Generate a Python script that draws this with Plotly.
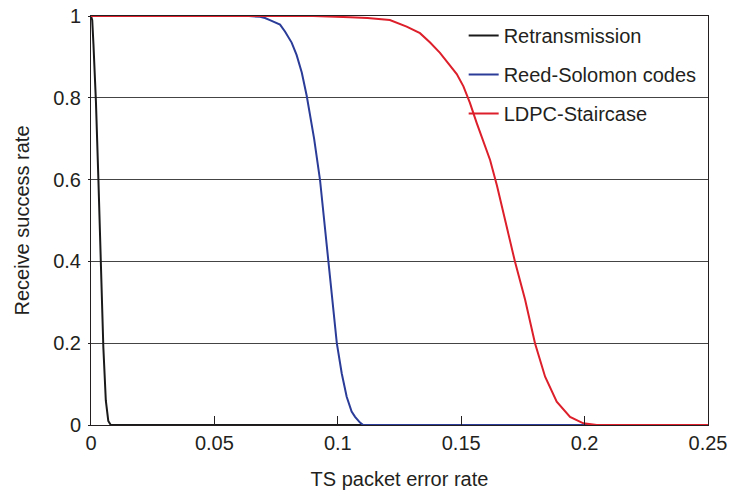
import plotly.graph_objects as go

# Data
retx_x = [0, 0.0005, 0.001, 0.002, 0.003, 0.004, 0.005, 0.006, 0.007, 0.008, 0.009, 0.25]
retx_y = [1, 0.99, 0.93, 0.79, 0.60, 0.40, 0.19, 0.06, 0.01, 0.0, 0.0, 0.0]

rs_x = [0, 0.064, 0.0685, 0.0705, 0.0725, 0.0766, 0.0786, 0.0813, 0.0833, 0.0854, 0.0874,
        0.0904, 0.0928, 0.0962, 0.0996, 0.1016, 0.1036, 0.1056, 0.107, 0.109,
        0.1103, 0.25]
rs_y = [1, 1, 0.998, 0.995, 0.99, 0.979, 0.962, 0.935, 0.905, 0.862, 0.805,
        0.70, 0.599, 0.40, 0.20, 0.126, 0.069, 0.033, 0.02, 0.006,
        0.0, 0.0]

ldpc_x = [0, 0.09, 0.105, 0.112, 0.1211, 0.1279, 0.1333, 0.1374, 0.1414, 0.1455,
          0.1482, 0.1509, 0.1535, 0.1563, 0.159, 0.1617, 0.1645, 0.1671, 0.1718,
          0.1759, 0.1799, 0.184, 0.1887, 0.1941, 0.1995, 0.2049, 0.25]
ldpc_y = [1, 1, 0.997, 0.995, 0.99, 0.974, 0.958, 0.935, 0.91, 0.88,
          0.858, 0.828, 0.788, 0.738, 0.695, 0.648, 0.585, 0.518, 0.399,
          0.306, 0.20, 0.118, 0.057, 0.02, 0.004, 0.0, 0.0]

series_names = ["Retransmission", "Reed-Solomon codes", "LDPC-Staircase"]
series_colors = ["#1a1a1a", "#2a3c98", "#dc1f2a"]

x_ticks = [0, 0.05, 0.1, 0.15, 0.2, 0.25]
x_tick_labels = ["0", "0.05", "0.1", "0.15", "0.2", "0.25"]
y_ticks = [0, 0.2, 0.4, 0.6, 0.8, 1]
y_tick_labels = ["0", "0.2", "0.4", "0.6", "0.8", "1"]

FONT = "Liberation Sans, Arial, Helvetica, sans-serif"
FS = 20

fig = go.Figure()
for name, color, xs, ys in zip(series_names, series_colors,
                               [retx_x, rs_x, ldpc_x], [retx_y, rs_y, ldpc_y]):
    fig.add_trace(go.Scatter(x=xs, y=ys, mode="lines", name=name,
                             legendgroup=name,
                             line=dict(color=color, width=2)))

fig.update_layout(
    width=732, height=494,
    margin=dict(l=91, r=24, t=16, b=69),
    paper_bgcolor="white", plot_bgcolor="white",
    font=dict(family=FONT, size=FS, color="#231f20"),
    showlegend=True,
    legend=dict(x=0.604, y=1.0, xanchor="left", yanchor="top",
                bgcolor="rgba(0,0,0,0)", borderwidth=0,
                font=dict(size=FS), tracegroupgap=10),
    xaxis=dict(range=[0, 0.25], tickvals=x_ticks, ticktext=x_tick_labels,
               ticks="inside", ticklen=9, tickcolor="#231f20",
               showline=True, linecolor="#231f20", linewidth=1, mirror=True,
               showgrid=False, zeroline=False, automargin=False,
               title=dict(text="TS packet error rate", standoff=18,
                          font=dict(size=FS)),
               tickfont=dict(size=FS)),
    yaxis=dict(range=[0, 1], tickvals=y_ticks, ticktext=y_tick_labels,
               ticks="outside", ticklen=2, tickcolor="#231f20",
               ticklabelstandoff=3,
               showline=True, linecolor="#231f20", linewidth=1, mirror=True,
               showgrid=True, gridcolor="#444444", gridwidth=1,
               zeroline=False, automargin=False,
               title=dict(text="Receive success rate", standoff=18,
                          font=dict(size=FS)),
               tickfont=dict(size=FS)),
)

fig.write_html("out.html",
               config={"displayModeBar": False},
               post_script="document.body.style.margin='0';document.body.style.overflow='hidden';")
